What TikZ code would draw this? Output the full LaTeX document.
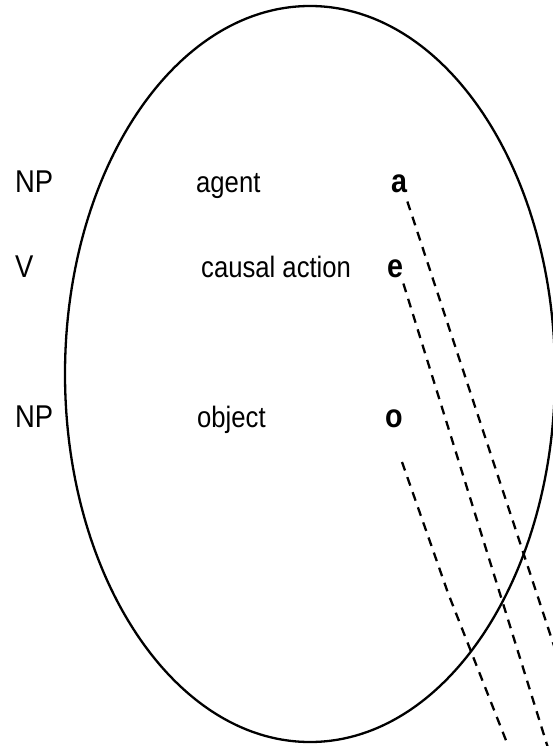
\documentclass[tikz,border=0pt]{standalone}
\usepackage{fontspec}
\setmainfont[FakeStretch=0.87]{Liberation Sans}

\tikzset{
  cat/.style={anchor=base west, inner sep=0pt, font=\fontsize{31.5}{32}\selectfont},
  role/.style={anchor=base west, inner sep=0pt, font=\fontsize{29.5}{30}\selectfont},
  var/.style={anchor=base west, inner sep=0pt, font=\fontsize{33}{33}\selectfont\bfseries},
  link/.style={line width=2.3pt, dash pattern=on 9pt off 7pt}
}

\begin{document}
\begin{tikzpicture}[x=1pt, y=-1pt]
      \useasboundingbox (0,0) rectangle (553,746);
      % Big ellipse
      \draw[line width=2.3pt] (310,374) ellipse [x radius=245pt, y radius=368pt];
      % Categories on the left
      \node[cat] (np1) at (15,192) {NP};
      \node[cat] (v) at (15,277) {V};
      \node[cat] (np2) at (15,427) {NP};
      % Roles
      \node[role] (agent) at (196,192) {agent};
      \node[role] (action) at (201,277) {causal action};
      \node[role] (object) at (197,427) {object};
      % Variables
      \node[var] (a) at (391,192) {a};
      \node[var] (e) at (387,277) {e};
      \node[var] (o) at (385,427) {o};
      % Dashed lines
      \coordinate (aend) at (560,664);
      \coordinate (eend) at (548,748);
      \coordinate (ostart) at (402,462);
      \coordinate (obend) at (448,593);
      \coordinate (oend) at (509,748);
      \draw[link] (a.south east) ++(0,9) -- (aend);
      \draw[link] (e.south east) ++(0,6) -- (eend);
      \draw[link] (ostart) -- (obend) -- (oend);
    \end{tikzpicture}
\end{document}
